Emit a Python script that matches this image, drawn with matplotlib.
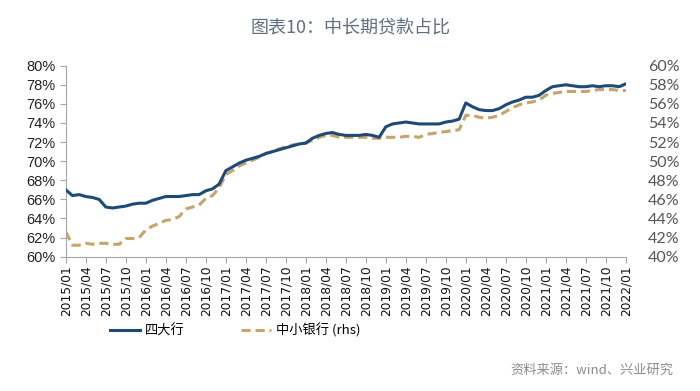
import matplotlib
matplotlib.use("Agg")
import matplotlib.pyplot as plt
import numpy as np
import pandas as pd

plt.rcParams['font.family'] = ['Noto Sans CJK SC', 'DejaVu Sans']

months = pd.period_range("2015-01", "2022-01", freq="M")
month_labels = [f"{p.year}/{p.month:02d}" for p in months]

big4 = [67.0, 66.4, 66.5, 66.3, 66.2, 66.0, 65.2, 65.1, 65.2, 65.3,
        65.5, 65.6, 65.6, 65.9, 66.1, 66.3, 66.3, 66.3, 66.4, 66.5,
        66.5, 66.9, 67.1, 67.6, 69.0, 69.4, 69.8, 70.1, 70.3, 70.5,
        70.8, 71.0, 71.2, 71.4, 71.6, 71.8, 71.9, 72.4, 72.7, 72.9,
        73.0, 72.8, 72.7, 72.7, 72.7, 72.8, 72.7, 72.5, 73.6, 73.9,
        74.0, 74.1, 74.0, 73.9, 73.9, 73.9, 73.9, 74.1, 74.2, 74.4,
        76.1, 75.7, 75.4, 75.3, 75.3, 75.5, 75.9, 76.2, 76.4, 76.7,
        76.7, 76.9, 77.4, 77.8, 77.9, 78.0, 77.9, 77.8, 77.8, 77.9,
        77.8, 77.9, 77.9, 77.8, 78.1]

small = [42.6, 41.2, 41.2, 41.4, 41.3, 41.4, 41.4, 41.3, 41.3, 41.9,
         41.9, 42.0, 42.8, 43.2, 43.5, 43.8, 43.9, 44.2, 45.0, 45.2,
         45.4, 46.1, 46.4, 47.2, 48.6, 49.0, 49.5, 49.8, 50.1, 50.4,
         50.8, 51.0, 51.3, 51.5, 51.7, 51.8, 51.9, 52.2, 52.5, 52.7,
         52.7, 52.5, 52.5, 52.5, 52.5, 52.5, 52.4, 52.4, 52.5, 52.5,
         52.5, 52.6, 52.6, 52.5, 52.8, 52.9, 53.0, 53.1, 53.2, 53.3,
         54.8, 54.8, 54.6, 54.5, 54.6, 54.8, 55.2, 55.6, 55.9, 56.1,
         56.2, 56.4, 56.9, 57.1, 57.2, 57.3, 57.3, 57.3, 57.3, 57.4,
         57.5, 57.5, 57.5, 57.4, 57.4]

left_ticks = list(range(60, 81, 2))
right_ticks = list(range(40, 61, 2))

blue = "#1f4a78"
tan = "#c6a46c"
grey_axis = "#a6a6a6"

fig = plt.figure(figsize=(7, 3.91), dpi=100)
ax = fig.add_axes([0.094, 0.3435, 0.800, 0.4885])
ax2 = ax.twinx()

x = np.arange(len(months))
ax.plot(x, big4, color=blue, lw=2.2, label="四大行", zorder=3)
ax2.plot(x, small, color=tan, lw=2.2, ls=(0, (3, 1.6)), label="中小银行 (rhs)")
ax.set_zorder(ax2.get_zorder() + 1)
ax.patch.set_visible(False)

ax.set_xlim(0, len(months) - 1)
ax.set_ylim(60, 80)
ax2.set_ylim(40, 60)
ax.set_yticks(left_ticks)
ax.set_yticklabels([f"{v}%" for v in left_ticks])
ax2.set_yticks(right_ticks)
ax2.set_yticklabels([f"{v}%" for v in right_ticks])

tick_idx = list(range(0, len(months), 3))
ax.set_xticks(tick_idx)
ax.set_xticklabels([month_labels[i] for i in tick_idx], rotation=90,
                   fontsize=8.8, color="#111111", family="DejaVu Sans")

for a in (ax, ax2):
    for s in ("top", "right"):
        a.spines[s].set_visible(False)
ax2.spines["left"].set_visible(False)
ax2.spines["bottom"].set_visible(False)
ax.spines["left"].set_color(grey_axis)
ax.spines["bottom"].set_color(grey_axis)

ax.tick_params(axis="y", colors=grey_axis, labelcolor="#222222", labelsize=10.5, length=4)
ax.tick_params(axis="x", colors=grey_axis, labelcolor="#111111", length=4, pad=2, direction="out")
ax2.tick_params(axis="y", length=0, labelcolor="#555555", labelsize=11.5, pad=16)
for lab in ax.get_yticklabels():
    lab.set_family("Liberation Sans")
for lab in ax2.get_yticklabels():
    lab.set_family("Lato")

h1, l1 = ax.get_legend_handles_labels()
h2, l2 = ax2.get_legend_handles_labels()
fig.legend(h1 + h2, l1 + l2, loc="center", bbox_to_anchor=(0.336, 0.155),
           ncol=2, frameon=False, fontsize=9.5, handlelength=2.3,
           columnspacing=4.2, handletextpad=0.4)

fig.text(0.5, 0.928, "图表10：中长期贷款占比", ha="center", va="center",
         fontsize=13, color="#5f6f80")
fig.text(0.962, 0.053, "资料来源：wind、兴业研究", ha="right", va="center",
         fontsize=9.5, color="#8c8c8c")

fig.savefig("out.png", dpi=100)
